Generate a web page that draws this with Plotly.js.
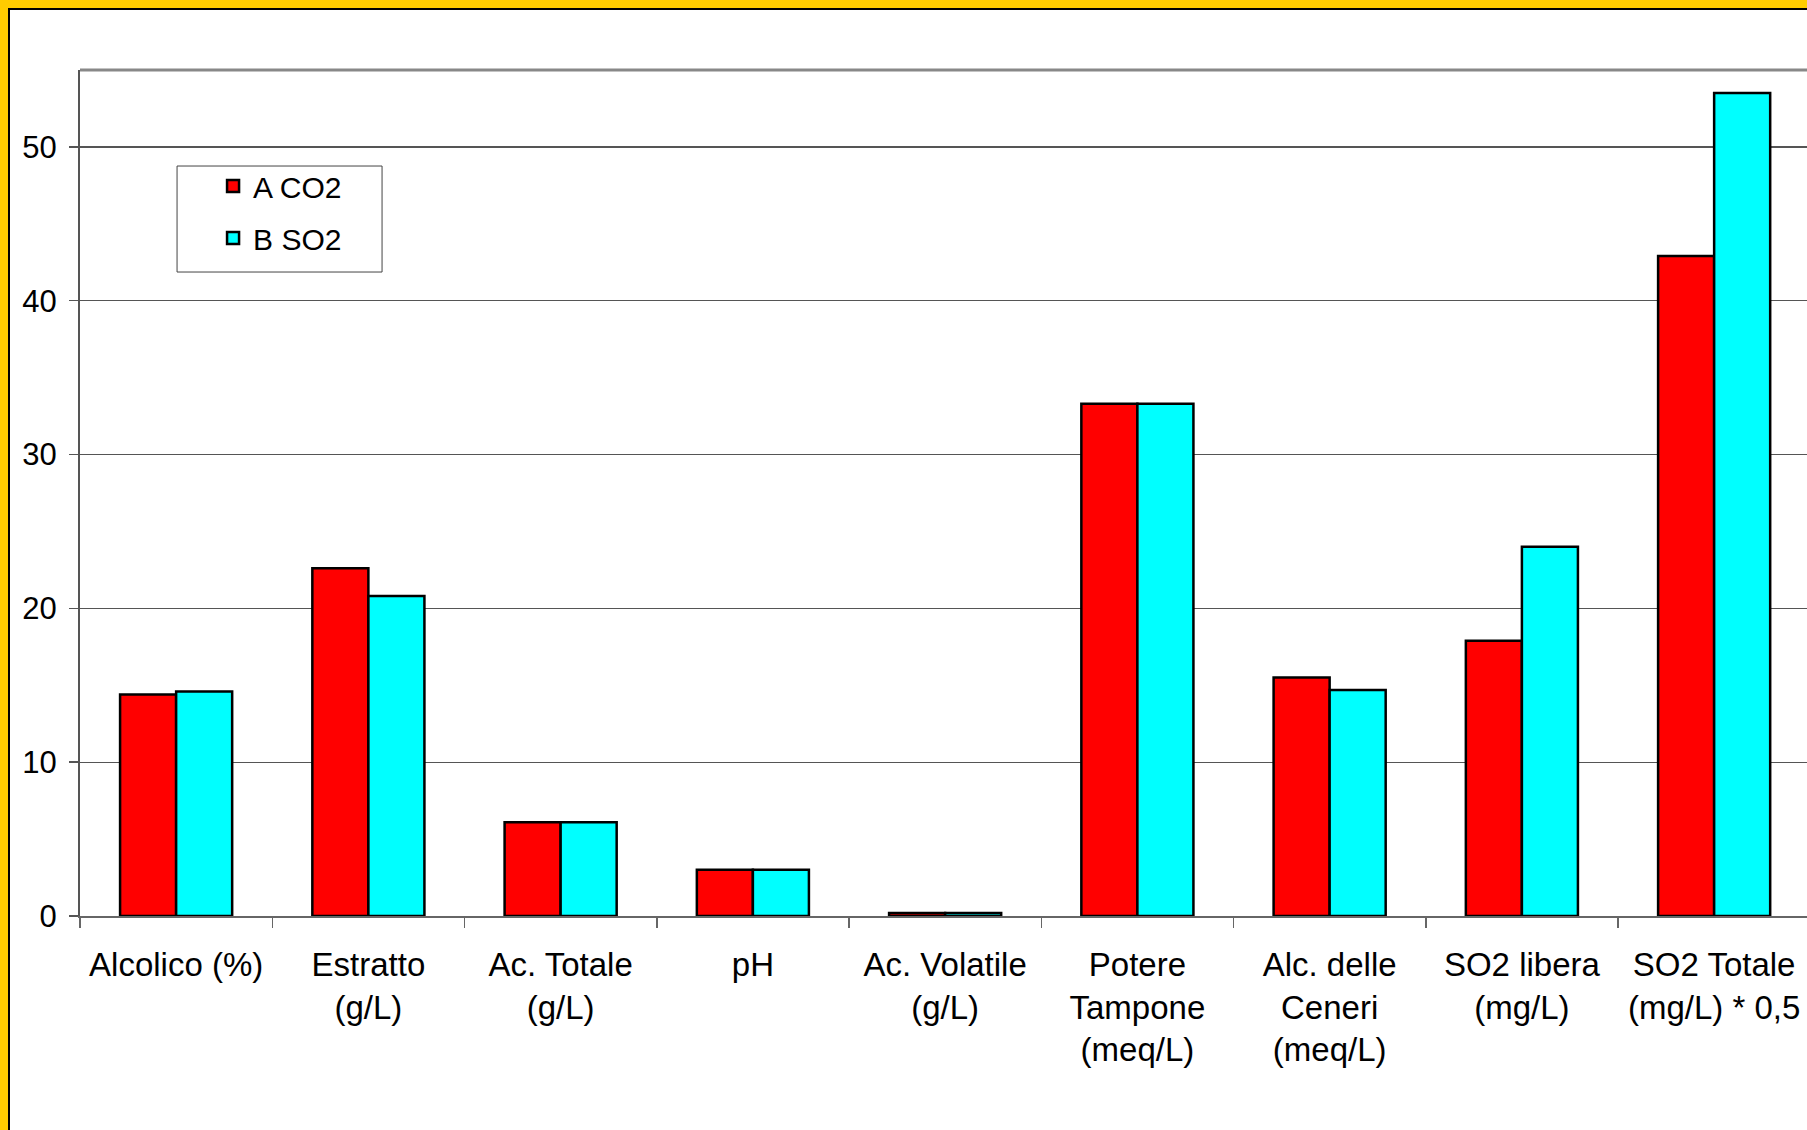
<!DOCTYPE html>
<html>
<head>
<meta charset="utf-8">
<script src="https://cdn.plot.ly/plotly-3.0.1.min.js"></script>
<style>
  html, body { margin: 0; padding: 0; background: #ffffff; }
  #wrap { position: relative; width: 1807px; height: 1130px; overflow: hidden; }
  #chart { position: absolute; left: 0; top: 0; width: 1807px; height: 1130px; }
  .frame { position: absolute; pointer-events: none; }
</style>
</head>
<body>
<div id="wrap">
  <div id="chart"></div>
  <div class="frame" style="left:0;top:0;width:1807px;height:8px;background:#FFCC00;"></div>
  <div class="frame" style="left:0;top:0;width:8px;height:1130px;background:#FFCC00;"></div>
  <div class="frame" style="left:8px;top:8px;width:1799px;height:2px;background:#000000;"></div>
  <div class="frame" style="left:8px;top:8px;width:2px;height:1122px;background:#000000;"></div>
</div>
<script>
const categories = [
  "Alcolico (%)",
  "Estratto<br>(g/L)",
  "Ac. Totale<br>(g/L)",
  "pH",
  "Ac. Volatile<br>(g/L)",
  "Potere<br>Tampone<br>(meq/L)",
  "Alc. delle<br>Ceneri<br>(meq/L)",
  "SO2 libera<br>(mg/L)",
  "SO2 Totale<br>(mg/L) * 0,5"
];
const seriesNames = ["A CO2", "B SO2"];
const valuesA = [14.4, 22.6, 6.1, 3.0, 0.2, 33.3, 15.5, 17.9, 42.9];
const valuesB = [14.6, 20.8, 6.1, 3.0, 0.2, 33.3, 14.7, 24.0, 53.5];
const yTicks = [0, 10, 20, 30, 40, 50];

const FONT = '"Liberation Sans", Arial, sans-serif';

const traces = [
  {
    type: 'bar', name: seriesNames[0], x: categories, y: valuesA,
    legendgroup: 'a',
    marker: { color: '#FF0000', line: { color: '#000000', width: 2.5 } },
    hoverinfo: 'skip'
  },
  {
    type: 'bar', name: seriesNames[1], x: categories, y: valuesB,
    legendgroup: 'b',
    marker: { color: '#00FFFF', line: { color: '#000000', width: 2.5 } },
    hoverinfo: 'skip'
  }
];

const layout = {
  width: 1807, height: 1130,
  margin: { l: 80, r: 0, t: 70, b: 214, pad: 0 },
  paper_bgcolor: '#ffffff', plot_bgcolor: '#ffffff',
  font: { family: FONT, color: '#000000', size: 31 },
  barmode: 'group', bargap: 0.417, bargroupgap: 0,
  showlegend: true,
  legend: {
    x: 0.0562, y: 0.8936, xanchor: 'left', yanchor: 'top',
    bgcolor: 'rgba(0,0,0,0)', borderwidth: 0,
    font: { family: FONT, size: 30, color: '#000000' },
    traceorder: 'grouped', tracegroupgap: 10,
    itemwidth: 30, indentation: 36
  },
  xaxis: {
    type: 'category',
    range: [-0.5, 8.483],
    showline: true, linecolor: '#666666', linewidth: 2,
    ticks: 'outside', tickson: 'boundaries', ticklen: 10, tickcolor: '#666666', tickwidth: 1.5,
    showgrid: false, zeroline: false,
    tickfont: { family: FONT, size: 33, color: '#000000' },
    ticklabelstandoff: 18,
    fixedrange: true
  },
  yaxis: {
    range: [0, 55],
    tickvals: yTicks, ticktext: yTicks.map(String),
    showline: true, linecolor: '#555555', linewidth: 2,
    ticks: 'outside', ticklen: 9, tickcolor: '#555555', tickwidth: 1.5,
    showgrid: true, gridcolor: '#555555', gridwidth: 1.2,
    zeroline: false,
    tickfont: { family: FONT, size: 31, color: '#000000' },
    ticklabelstandoff: 6,
    fixedrange: true
  },
  shapes: [
    { type: 'line', xref: 'paper', yref: 'paper', x0: 0, x1: 1, y0: 1, y1: 1,
      line: { color: '#888888', width: 3 }, layer: 'above' },
    { type: 'rect', xref: 'paper', yref: 'paper', x0: 0.0562, x1: 0.1749, y0: 0.7612, y1: 0.8865,
      fillcolor: '#ffffff', line: { color: '#444444', width: 1 }, layer: 'above' }
  ]
};

Plotly.newPlot('chart', traces, layout, { staticPlot: true, displayModeBar: false });
</script>
</body>
</html>
